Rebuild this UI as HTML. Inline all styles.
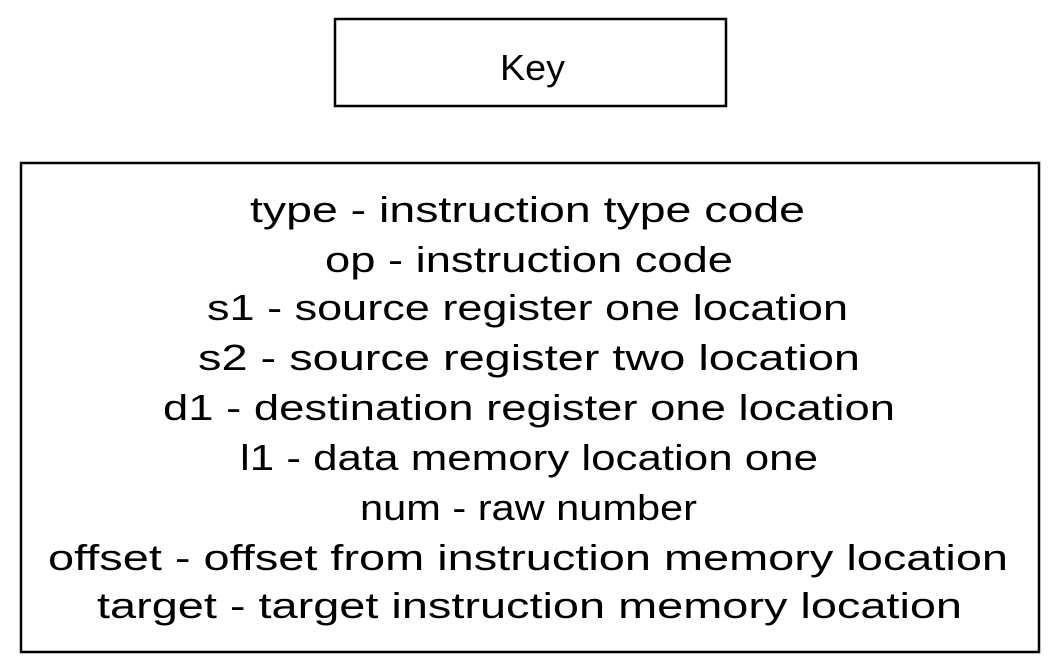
<!DOCTYPE html>
<html><head><meta charset="utf-8"><style>
html,body{margin:0;padding:0;background:#fff;}
svg{display:block;}
text{font-family:"Liberation Sans",sans-serif;font-size:36px;fill:#000;}
</style></head><body>
<svg width="1058" height="672" viewBox="0 0 1058 672" xmlns="http://www.w3.org/2000/svg">
<rect x="335" y="19" width="391" height="87" fill="none" stroke="#000" stroke-width="2.5"/>
<rect x="21" y="163" width="1018" height="489" fill="none" stroke="#000" stroke-width="2.5"/>
<text x="500" y="80" textLength="65" lengthAdjust="spacingAndGlyphs">Key</text>
<text x="250" y="222" textLength="555" lengthAdjust="spacingAndGlyphs">type - instruction type code</text>
<text x="325" y="272" textLength="408" lengthAdjust="spacingAndGlyphs">op - instruction code</text>
<text x="207" y="320" textLength="641" lengthAdjust="spacingAndGlyphs">s1 - source register one location</text>
<text x="198" y="370" textLength="662" lengthAdjust="spacingAndGlyphs">s2 - source register two location</text>
<text x="163" y="420" textLength="732" lengthAdjust="spacingAndGlyphs">d1 - destination register one location</text>
<text x="240" y="470" textLength="578" lengthAdjust="spacingAndGlyphs">l1 - data memory location one</text>
<text x="360" y="520" textLength="337" lengthAdjust="spacingAndGlyphs">num - raw number</text>
<text x="48" y="570" textLength="960" lengthAdjust="spacingAndGlyphs">offset - offset from instruction memory location</text>
<text x="97" y="618" textLength="865" lengthAdjust="spacingAndGlyphs">target - target instruction memory location</text>
</svg>
</body></html>
